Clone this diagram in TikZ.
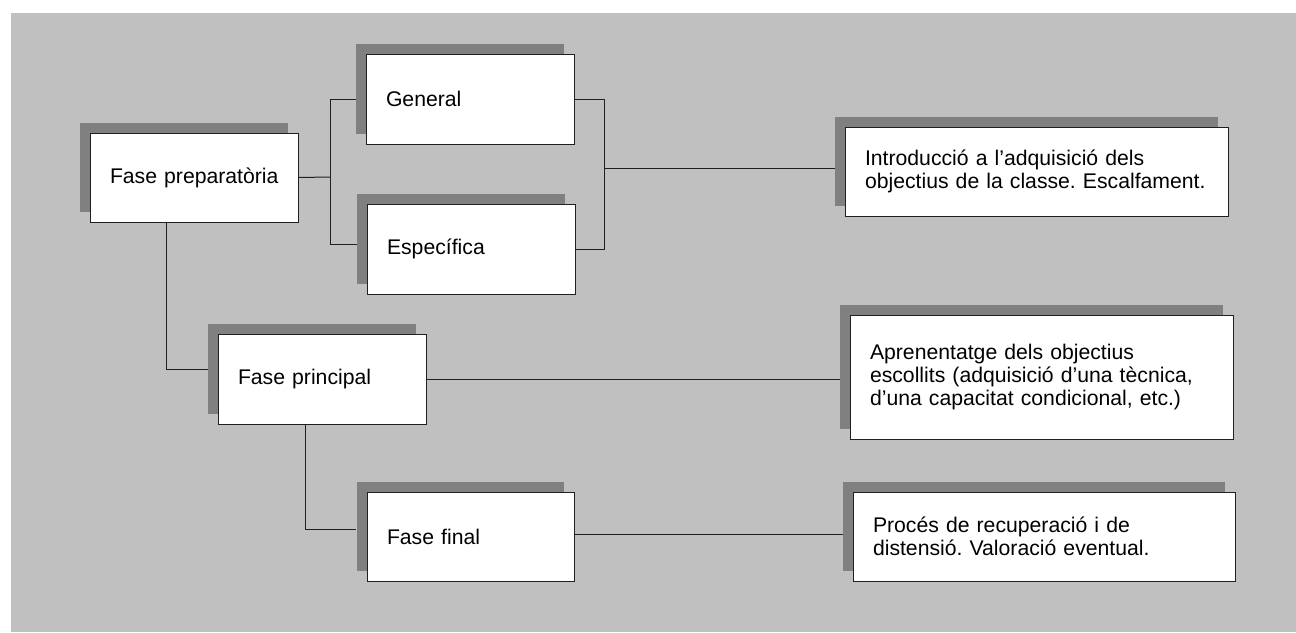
\documentclass[tikz,border=0pt]{standalone}
\usepackage{fontspec}
\setmainfont{Liberation Sans}
\usetikzlibrary{shadows,calc}
\definecolor{bggray}{HTML}{C0C0C0}
\definecolor{shadowgray}{HTML}{808080}
\definecolor{linegray}{HTML}{202020}
\frenchspacing
\begin{document}
\begin{tikzpicture}[x=0.5pt,y=-0.5pt,
  stagebox/.style={draw=linegray, line width=0.5pt, fill=white,
    inner xsep=10pt, inner ysep=0pt, align=left,
    font=\fontsize{10.6pt}{11.7pt}\selectfont,
    drop shadow={shadow xshift=-5pt, shadow yshift=5pt, fill=shadowgray, opacity=1}},
  wire/.style={draw=linegray, line width=0.5pt}]
  % page and grey panel
  \useasboundingbox (0,0) rectangle (1296,632);
  \fill[bggray] (11,13) rectangle (1296,632);

  % phase boxes
  \node[stagebox, minimum width=104pt, minimum height=44.5pt, text width=84pt]
    (prep) at (194,177.5) {\mbox{Fase preparatòria}};
  \node[stagebox, minimum width=104pt, minimum height=45pt, text width=84pt]
    (gen) at (470,99) {General};
  \node[stagebox, minimum width=104pt, minimum height=45pt, text width=84pt]
    (esp) at (471,249) {Específica};
  \node[stagebox, minimum width=104pt, minimum height=45pt, text width=84pt]
    (princ) at (322,379) {Fase principal};
  \node[stagebox, minimum width=103.5pt, minimum height=44.5pt, text width=83.5pt]
    (final) at (470.5,536.5) {Fase final};

  % description boxes
  \node[stagebox, minimum width=191.5pt, minimum height=44.5pt, text width=171.5pt]
    (intro) at (1036.5,171.5) {Introducció a l’adquisició dels\\objectius de la classe. Escalfament.};
  \node[stagebox, minimum width=191.5pt, minimum height=62pt, text width=171.5pt]
    (apr) at (1041.5,377) {Aprenentatge dels objectius\\escollits (adquisició d’una tècnica,\\d’una capacitat condicional, etc.)};
  \node[stagebox, minimum width=191pt, minimum height=44.5pt, text width=171pt]
    (proc) at (1044,536.5) {Procés de recuperació i de\\distensió. Valoració eventual.};

  % junction points
  \coordinate (jl) at (330,177);
  \coordinate (jr) at (604,168);

  % preparatory phase splits into general / specific
  \draw[wire] (prep.east) -- (jl);
  \draw[wire] (jl) |- ($(gen.west)+(-10,0)$);
  \draw[wire] (jl) |- ($(esp.west)+(-10,-5)$);
  \draw[wire] (gen.east) -| (jr);
  \draw[wire] (esp.east) -| (jr);
  \draw[wire] (jr) -- ($(intro.west)+(-10,-3.5)$);

  % sequence of phases
  \draw[wire] ($(prep.south west)+(77,0)$) |- ($(princ.west)+(-10,-10)$);
  \draw[wire] (princ.east) -- ($(apr.west)+(-10,2)$);
  \draw[wire] ($(princ.south west)+(88,0)$) |- ($(final.west)+(-11,-7.5)$);
  \draw[wire] ($(final.east)+(0,-2.5)$) -- ($(proc.west)+(-10,-2.5)$);
\end{tikzpicture}
\end{document}
